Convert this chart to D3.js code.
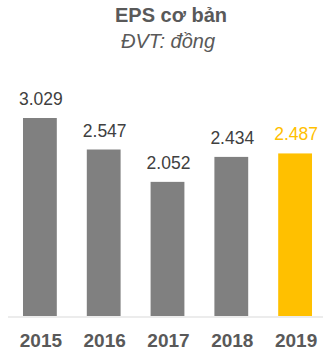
<!DOCTYPE html>
<html>
<head>
<meta charset="utf-8">
<script src="https://cdn.jsdelivr.net/npm/d3@7"></script>
<style>
  body { margin: 0; background: #fff; }
  text { font-family: Arial, "Liberation Sans", sans-serif; }
</style>
</head>
<body>
<div class="eps-chart"></div>
<script>
const years = ["2015", "2016", "2017", "2018", "2019"];
const eps = [3029, 2547, 2052, 2434, 2487];
const valueLabels = ["3.029", "2.547", "2.052", "2.434", "2.487"];

const w = 323;
const h = 351;
const svg = d3.select('.eps-chart')
    .append('svg')
    .attr('width', w)
    .attr('height', h);

// title
svg.append('text')
    .attr('x', 171).attr('y', 22)
    .attr('text-anchor', 'middle')
    .attr('font-size', 20).attr('font-weight', 'bold')
    .attr('fill', '#595959')
    .text('EPS cơ bản');
svg.append('text')
    .attr('x', 168).attr('y', 48)
    .attr('text-anchor', 'middle')
    .attr('font-size', 20).attr('font-style', 'italic')
    .attr('fill', '#595959')
    .text('ĐVT: đồng');

const x = d3.scaleBand()
    .domain(years)
    .range([8, 327])
    .paddingInner(0.47)
    .paddingOuter(0.235);

const y = d3.scaleLinear()
    .domain([0, 3029])
    .range([316, 118]);

//bars
svg.selectAll('rect')
    .data(years)
    .enter()
    .append('rect')
    .attr('x', d => x(d))
    .attr('y', (d, i) => y(eps[i]))
    .attr('width', x.bandwidth())
    .attr('height', (d, i) => y(0) - y(eps[i]))
    .attr('fill', d => d === '2019' ? '#FFC000' : '#808080');

// baseline
svg.append('line')
    .attr('x1', 8).attr('x2', 323)
    .attr('y1', 317).attr('y2', 317)
    .attr('stroke', '#d9d9d9').attr('stroke-width', 1);

//value labels
svg.selectAll('.val')
    .data(years)
    .enter()
    .append('text')
    .attr('class', 'val')
    .attr('x', d => x(d) + x.bandwidth() / 2 + 1)
    .attr('y', (d, i) => y(eps[i]) - 13)
    .attr('text-anchor', 'middle')
    .attr('font-size', 17.5)
    .attr('fill', d => d === '2019' ? '#FFC000' : '#404040')
    .text((d, i) => valueLabels[i]);

//year labels
svg.selectAll('.yr')
    .data(years)
    .enter()
    .append('text')
    .attr('class', 'yr')
    .attr('x', d => x(d) + x.bandwidth() / 2 + 1)
    .attr('y', 347)
    .attr('text-anchor', 'middle')
    .attr('font-size', 19).attr('font-weight', 'bold')
    .attr('fill', '#595959')
    .text(d => d);
</script>
</body>
</html>
